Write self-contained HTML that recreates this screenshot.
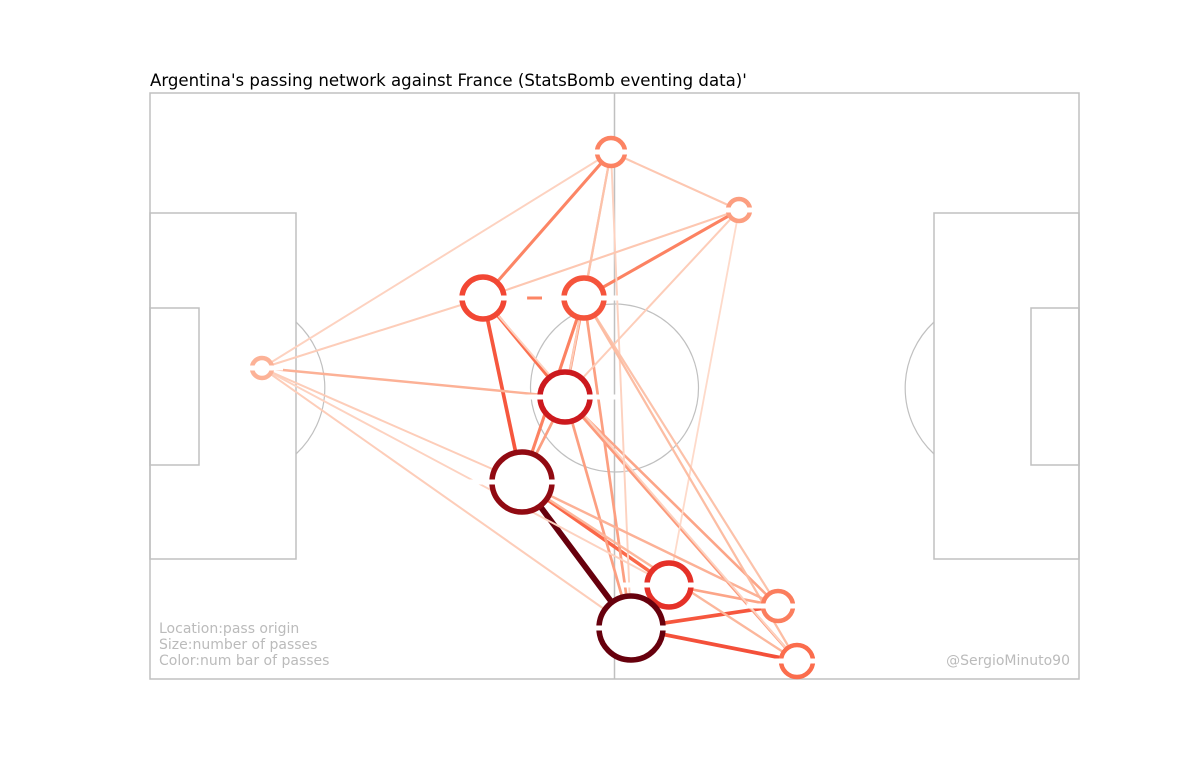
<!DOCTYPE html>
<html><head><meta charset="utf-8"><style>
body{margin:0;background:#fff;}
svg{display:block;font-family:"DejaVu Sans","Liberation Sans",sans-serif;}
</style></head><body>
<svg id="chart" width="1200" height="777" viewBox="0 0 1200 777">
<rect width="1200" height="777" fill="#fff"/>
<text x="150" y="86" font-size="16.6" fill="#000">Argentina's passing network against France (StatsBomb eventing data)'</text>
<g fill="none" stroke="#c0c0c0" stroke-width="1.5">
<rect x="150" y="93" width="929" height="586"/>
<line x1="614.5" y1="93" x2="614.5" y2="679"/>
<circle cx="614.5" cy="388" r="84" stroke-width="1.2"/>
<rect x="150" y="213" width="146" height="346"/>
<rect x="150" y="308" width="49" height="157"/>
<rect x="934" y="213" width="145" height="346"/>
<rect x="1031" y="308" width="48" height="157"/>
<path d="M296,322 A90,90 0 0 1 296,454" stroke-width="1.2"/>
<path d="M934,322 A90,90 0 0 0 934,454" stroke-width="1.2"/>
</g>
<g id="edges"></g>
<g id="nodes"></g>
<g id="masks"></g>
<g font-size="14" fill="#bbbbbb">
<text x="159" y="633">Location:pass origin</text>
<text x="159" y="649">Size:number of passes</text>
<text x="159" y="665">Color:num bar of passes</text>
<text x="1070" y="665" text-anchor="end">@SergioMinuto90</text>
</g>
</svg>
<script>
const nodeIds = ["A","B","C","D","E","F","G","H","I","J","K"];
const nodeX = [611,739,483,584,262,565,522,669,631,778,797];
const nodeY = [152,210,298,298,368,397,482,585,628,606,661];
const nodeR = [14,11,21,20,10,25,30,22,32,15,16];
const nodeLevel = [0.32,0.22,0.52,0.48,0.15,0.7,0.9,0.6,1.0,0.34,0.4];
const edgeFrom = ["G","C","C","C","D","D","D","I","I","G","F","F","D","F","H","E","E","E","E","E","E","A","A","A","A","C","C","B","B","D","D","G","G","F","A","C"];
const edgeTo   = ["I","G","F","A","B","G","F","J","K","H","K","J","I","I","J","F","C","A","I","H","G","B","D","F","I","B","D","F","H","J","K","K","J","G","D","K"];
const edgeVal  = [1.0,0.5,0.42,0.35,0.36,0.36,0.3,0.5,0.52,0.45,0.28,0.24,0.26,0.26,0.24,0.2,0.1,0.08,0.1,0.08,0.1,0.12,0.14,0.1,0.08,0.12,0.35,0.1,0.05,0.14,0.16,0.18,0.2,0.26,0.14,0.08];

const stops=[[255,245,240],[254,224,210],[252,187,161],[252,146,114],[251,106,74],[239,59,44],[203,24,29],[165,15,21],[103,0,13]];
function reds(t){t=Math.max(0,Math.min(1,t));const p=t*(stops.length-1);const i=Math.min(stops.length-2,Math.floor(p));const f=p-i;
 const c=stops[i].map((v,k)=>Math.round(v+(stops[i+1][k]-v)*f));return `rgb(${c[0]},${c[1]},${c[2]})`;}
const NS="http://www.w3.org/2000/svg";
const idx=id=>nodeIds.indexOf(id);
const eg=document.getElementById("edges"),ng=document.getElementById("nodes"),mg=document.getElementById("masks");
edgeFrom.forEach((f,i)=>{
 const a=idx(f),b=idx(edgeTo[i]);const v=edgeVal[i];
 const l=document.createElementNS(NS,"line");
 l.setAttribute("x1",nodeX[a]);l.setAttribute("y1",nodeY[a]);l.setAttribute("x2",nodeX[b]);l.setAttribute("y2",nodeY[b]);
 l.setAttribute("stroke",reds(0.1+v*0.9));l.setAttribute("stroke-width",1.6+v*4.2);
 
 
 eg.appendChild(l);
});
nodeIds.forEach((id,i)=>{
 const c=document.createElementNS(NS,"circle");
 c.setAttribute("cx",nodeX[i]);c.setAttribute("cy",nodeY[i]);c.setAttribute("r",nodeR[i]);
 c.setAttribute("fill","#fff");c.setAttribute("stroke",reds(0.15+nodeLevel[i]*0.85));
 c.setAttribute("stroke-width",nodeR[i]>18?5.5:4.5);
 
 
 ng.appendChild(c);
 const r=document.createElementNS(NS,"rect");
 const w=nodeR[i]*4.2;
 r.setAttribute("x",nodeX[i]-w/2);r.setAttribute("y",nodeY[i]-2.5);r.setAttribute("width",w);r.setAttribute("height",5);
 r.setAttribute("fill","#fff");
 
 
 mg.appendChild(r);
});
</script>
</body></html>
